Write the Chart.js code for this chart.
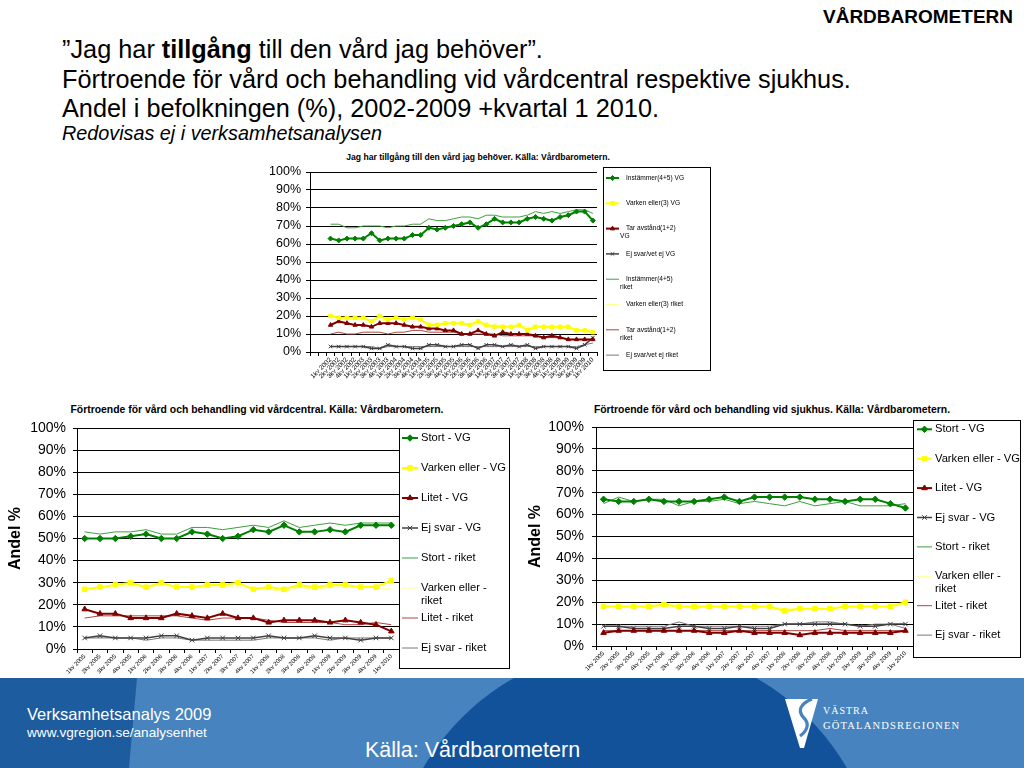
<!DOCTYPE html>
<html><head><meta charset="utf-8">
<script src="https://cdn.jsdelivr.net/npm/chart.js@4.4.1/dist/chart.umd.min.js"></script>
<style>
html,body{margin:0;padding:0;width:1024px;height:768px;overflow:hidden;background:#fff;font-family:"Liberation Sans",Arial,sans-serif;color:#000;}
.abs{position:absolute;white-space:nowrap;line-height:1;}
#hdr{right:11px;top:7px;font-weight:bold;font-size:19px;}
.t{left:62px;font-size:25.3px;}
.ct{font-weight:bold;text-align:center;}
canvas{position:absolute;}
.bt{color:#fff;}
</style></head>
<body>
<div class="abs" id="hdr">VÅRDBAROMETERN</div>
<div class="abs t" style="top:37px">”Jag har <b>tillgång</b> till den vård jag behöver”.</div>
<div class="abs t" style="top:67px">Förtroende för vård och behandling vid vårdcentral respektive sjukhus.</div>
<div class="abs t" style="top:96px">Andel i befolkningen (%), 2002-2009 +kvartal 1 2010.</div>
<div class="abs t" style="top:124px;font-size:19.8px;font-style:italic">Redovisas ej i verksamhetsanalysen</div>

<div class="abs ct" style="left:278px;width:400px;top:153px;font-size:8.6px">Jag har tillgång till den vård jag behöver. Källa: Vårdbarometern.</div>
<div class="abs ct" style="left:0px;width:514px;top:405px;font-size:10.4px">Förtroende för vård och behandling vid vårdcentral. Källa: Vårdbarometern.</div>
<div class="abs ct" style="left:520px;width:504px;top:405px;font-size:10.4px">Förtroende för vård och behandling vid sjukhus. Källa: Vårdbarometern.</div>

<canvas id="cTop" style="left:260px;top:165px;width:455px;height:230px" width="455" height="230"></canvas>
<canvas id="cVc" style="left:0px;top:420px;width:515px;height:258px" width="515" height="258"></canvas>
<canvas id="cSh" style="left:520px;top:418px;width:504px;height:260px" width="504" height="260"></canvas>

<svg class="abs" style="left:0;top:678px" width="1024" height="90">
  <rect x="0" y="0" width="1024" height="90" fill="#4783be"/>
  <polygon points="0,0 137,0 129,90 0,90" fill="#1d5d9f"/>
  <circle cx="635" cy="213" r="245" fill="#11529a"/>
  <path d="M785,21 L818,21 L804,70 L800,70 Z" fill="#fff"/>
  <path d="M812,21 C800,26 797,33 804,40 C810,46 807,53 800,58" stroke="#4783be" stroke-width="3.2" fill="none"/>
</svg>
<div class="abs bt" style="left:27px;top:706px;font-size:16.5px">Verksamhetsanalys 2009</div>
<div class="abs bt" style="left:27px;top:726px;font-size:13.6px">www.vgregion.se/analysenhet</div>
<div class="abs bt" style="left:365px;top:740px;font-size:21.5px">Källa: Vårdbarometern</div>
<div class="abs bt" style="left:823px;top:706px;font-size:10px;font-family:'Liberation Serif',serif;letter-spacing:1px">VÄSTRA</div>
<div class="abs bt" style="left:823px;top:721px;font-size:10.5px;font-family:'Liberation Serif',serif;letter-spacing:1.2px">GÖTALANDSREGIONEN</div>

<script>
// ---------- data ----------
const topQuarters = ['1kv 2002','2kv 2002','3kv 2002','4kv 2002','1kv 2003','2kv 2003','3kv 2003','4kv 2003',
  '1kv 2004','2kv 2004','3kv 2004','4kv 2004','1kv 2005','2kv 2005','3kv 2005','4kv 2005',
  '1kv 2006','2kv 2006','3kv 2006','4kv 2006','1kv 2007','2kv 2007','3kv 2007','4kv 2007',
  '1kv 2008','2kv 2008','3kv 2008','4kv 2008','1kv 2009','2kv 2009','3kv 2009','4kv 2009','1kv 2010'];
const topNames = ['Instämmer(4+5) VG','Varken eller(3) VG','Tar avstånd(1+2)\nVG','Ej svar/vet ej VG',
  'Instämmer(4+5)\nriket','Varken eller(3) riket','Tar avstånd(1+2)\nriket','Ej svar/vet ej riket'];
const topInstVG    = [63,62,63,63,63,66,62,63,63,63,65,65,69,68,69,70,71,72,69,71,74,72,72,72,74,75,74,73,75,76,78,78,73];
const topVarkenVG  = [20,19,19,19,19,17,20,18,19,18,19,18,15,15,16,16,16,15,17,15,14,14,14,15,12,14,14,14,14,14,12,12,11];
const topTarVG     = [15,17,16,15,15,14,16,16,16,15,14,14,13,13,12,12,10,10,12,10,9,11,10,10,10,9,8,9,8,7,7,7,7];
const topEjVG      = [3,3,3,3,3,2,2,4,3,3,2,2,4,4,3,3,4,4,2,4,4,3,4,3,4,2,3,3,3,3,2,4,8];
const topInstRiket = [71,71,69,69,70,70,70,69,70,70,71,71,74,73,73,74,75,75,74,76,76,75,75,75,76,78,77,78,77,78,79,79,77];
const topVarkenRiket=[18,18,18,18,18,18,18,17,17,17,17,17,16,16,16,16,15,15,15,15,15,15,14,14,14,14,14,13,13,13,13,12,12];
const topTarRiket  = [10,11,10,10,11,11,11,10,11,11,12,12,11,11,11,11,10,10,10,10,10,9,9,9,9,9,8,8,8,7,7,7,7];
const topEjRiket   = [3,3,3,3,3,3,2,3,3,3,3,3,3,3,3,3,3,3,3,3,3,3,3,3,3,3,3,3,3,3,3,4,5];

const btmQuarters = ['1kv 2005','2kv 2005','3kv 2005','4kv 2005','1kv 2006','2kv 2006','3kv 2006','4kv 2006',
  '1kv 2007','2kv 2007','3kv 2007','4kv 2007','1kv 2008','2kv 2008','3kv 2008','4kv 2008',
  '1kv 2009','2kv 2009','3kv 2009','4kv 2009','1kv 2010'];
const btmNames = ['Stort - VG','Varken eller - VG','Litet - VG','Ej svar - VG',
  'Stort - riket','Varken eller -\nriket','Litet - riket','Ej svar - riket'];
const vcStortVG     = [50,50,50,51,52,50,50,53,52,50,51,54,53,56,53,53,54,53,56,56,56];
const vcVarkenVG    = [27,28,29,30,28,30,28,28,29,29,30,27,28,27,29,28,29,29,28,28,31];
const vcLitetVG     = [18,16,16,14,14,14,16,15,14,16,14,14,12,13,13,13,12,13,12,11,8];
const vcEjVG        = [5,6,5,5,5,6,6,4,5,5,5,5,6,5,5,6,5,5,4,5,5];
const vcStortRiket  = [53,52,53,53,54,52,52,55,55,54,55,56,55,58,55,56,57,56,57,57,57];
const vcVarkenRiket = [27,28,28,28,28,29,28,28,28,28,28,28,27,26,28,27,28,28,28,28,27];
const vcLitetRiket  = [14,15,15,15,15,15,15,14,13,14,14,14,13,12,12,12,12,11,11,12,11];
const vcEjRiket     = [5,5,5,5,4,5,5,4,4,4,4,4,5,5,5,5,4,5,5,5,5];

const shStortVG     = [67,66,66,67,66,66,66,67,68,66,68,68,68,68,67,67,66,67,67,65,63];
const shVarkenVG    = [18,18,18,18,19,18,18,18,18,18,18,18,16,17,17,17,18,18,18,18,20];
const shLitetVG     = [6,7,7,7,7,7,7,6,6,7,6,6,6,5,6,6,6,6,6,6,7];
const shEjVG        = [9,9,8,8,8,9,9,8,8,9,8,8,10,10,10,10,10,9,9,10,10];
const shStortRiket  = [65,68,66,67,67,64,66,66,67,65,66,65,64,66,64,65,66,64,64,64,65];
const shVarkenRiket = [18,18,18,18,18,18,17,18,18,18,18,18,17,17,17,17,18,18,18,18,19];
const shLitetRiket  = [7,7,7,7,7,7,7,7,7,7,7,7,7,7,7,8,7,7,7,7,7];
const shEjRiket     = [9,9,9,9,9,11,9,9,9,9,9,9,10,10,11,11,10,9,10,10,8];

// ---------- styles ----------
const FONT = '"Liberation Sans", Arial, sans-serif';
Chart.defaults.font.family = FONT;
Chart.defaults.color = '#000';

const seriesStyles = [
  {c:'#008000', w:2, ps:'rectRot', fill:'#008000'},
  {c:'#ffff00', w:2, ps:'rect', fill:'#ffff00'},
  {c:'#800000', w:2, ps:'triangle', fill:'#800000'},
  {c:'#404040', w:1.5, ps:'crossRot', fill:'#404040'},
  {c:'#3f9f3f', w:1, ps:false},
  {c:'#ffff90', w:1, ps:false},
  {c:'#b04444', w:1, ps:false},
  {c:'#7a7a7a', w:1, ps:false}
];

const boxLegend = {
  id: 'boxLegend',
  afterDraw(chart, args, o) {
    const ctx = chart.ctx;
    ctx.save();
    ctx.fillStyle = '#fff';
    ctx.fillRect(o.x, o.y, o.w, o.h);
    ctx.strokeStyle = '#000'; ctx.lineWidth = 1;
    ctx.strokeRect(o.x + 0.5, o.y + 0.5, o.w - 1, o.h - 1);
    ctx.font = o.fontSize + 'px ' + FONT;
    ctx.textBaseline = 'middle'; ctx.textAlign = 'left';
    chart.data.datasets.forEach((ds, i) => {
      const y = o.y0 + i * o.rowH;
      ctx.strokeStyle = ds.borderColor; ctx.lineWidth = ds.borderWidth;
      ctx.beginPath(); ctx.moveTo(o.m0, y); ctx.lineTo(o.m1, y); ctx.stroke();
      if (ds.pointRadius > 0) {
        ctx.fillStyle = ds.pointBackgroundColor; ctx.strokeStyle = ds.pointBorderColor;
        ctx.lineWidth = ds.pointBorderWidth;
        Chart.helpers.drawPoint(ctx, {pointStyle: ds.pointStyle, radius: ds.pointRadius,
          borderWidth: ds.pointBorderWidth, rotation: 0}, (o.m0 + o.m1) / 2, y);
      }
      ctx.fillStyle = '#000';
      ds.label.split('\n').forEach((t, k) => ctx.fillText(t, k ? o.tx2 : o.tx, y + k * o.lineH));
    });
    ctx.restore();
  }
};

function fixScale(size, isX) {
  return function(s) {
    if (isX) s.height = size; else s.width = size;
    s.paddingLeft = 0; s.paddingRight = 0; s.paddingTop = 0; s.paddingBottom = 0;
  };
}

function makeChart(id, labels, seriesList, names, cfg) {
  const datasets = seriesList.map((d, i) => {
    const st = seriesStyles[i];
    return {
      label: names[i], data: d,
      borderColor: st.c, backgroundColor: st.c, borderWidth: st.w,
      pointStyle: st.ps || 'circle', pointRadius: st.ps ? cfg.pr : 0,
      pointBackgroundColor: st.fill || st.c, pointBorderColor: st.fill || st.c,
      pointBorderWidth: 1, tension: 0, fill: false
    };
  });
  return new Chart(document.getElementById(id), {
    type: 'line',
    data: {labels, datasets},
    plugins: [boxLegend],
    options: {
      responsive: false, animation: false, events: [],
      layout: {padding: {left: 0, top: cfg.top, right: cfg.right, bottom: 0}},
      plugins: {legend: {display: false}, tooltip: {enabled: false}, title: {display: false},
        boxLegend: cfg.legend},
      scales: {
        x: {
          type: 'category', offset: true,
          afterFit: fixScale(cfg.xh, true),
          grid: {offset: true, drawOnChartArea: false, drawTicks: true, tickLength: 4, color: '#000'},
          border: {color: '#000', width: 1},
          ticks: {autoSkip: false, minRotation: 45, maxRotation: 45, padding: 0,
            font: {size: cfg.xfs}, color: '#000'}
        },
        y: {
          min: 0, max: 100,
          afterFit: fixScale(cfg.yw, false),
          grid: {color: '#000', lineWidth: 1, tickLength: 4, drawTicks: true},
          border: {color: '#000', width: 1},
          ticks: {stepSize: 10, padding: cfg.ypad, font: {size: cfg.yfs}, color: '#000',
            callback: v => v + '%'},
          title: cfg.ytitle ? {display: true, text: cfg.ytitle, font: {size: 16, weight: 'bold'},
            color: '#000', padding: {top: 6, bottom: 0}} : {display: false}
        }
      }
    }
  });
}

// top chart: two empty leading categories before the first quarter
const pad2 = arr => [null, null].concat(arr);
makeChart('cTop', ['', ''].concat(topQuarters),
  [topInstVG, topVarkenVG, topTarVG, topEjVG, topInstRiket, topVarkenRiket, topTarRiket, topEjRiket].map(pad2),
  topNames,
  {top: 7, right: 118, xh: 43, yw: 50, xfs: 6.5, yfs: 12.5, ypad: 5, pr: 2.5,
   legend: {x: 343, y: 2, w: 108, h: 204, y0: 13, rowH: 25.3, lineH: 8, m0: 346, m1: 359, tx: 366, tx2: 360, fontSize: 6.6}});

makeChart('cVc', btmQuarters,
  [vcStortVG, vcVarkenVG, vcLitetVG, vcEjVG, vcStortRiket, vcVarkenRiket, vcLitetRiket, vcEjRiket],
  btmNames,
  {top: 8, right: 116, xh: 29, yw: 77, xfs: 6, yfs: 14, ypad: 7, pr: 3.2, ytitle: 'Andel %',
   legend: {x: 399, y: 8, w: 111, h: 241, y0: 18, rowH: 30, lineH: 12.5, m0: 402, m1: 418, tx: 421, tx2: 421, fontSize: 11.2}});

makeChart('cSh', btmQuarters,
  [shStortVG, shVarkenVG, shLitetVG, shEjVG, shStortRiket, shVarkenRiket, shLitetRiket, shEjRiket],
  btmNames,
  {top: 9, right: 111, xh: 32, yw: 76, xfs: 6, yfs: 14, ypad: 8, pr: 3.2, ytitle: 'Andel %',
   legend: {x: 393, y: 2, w: 108, h: 238, y0: 11.3, rowH: 29.4, lineH: 12.5, m0: 397, m1: 412, tx: 415, tx2: 415, fontSize: 11.2}});
</script>
</body></html>
